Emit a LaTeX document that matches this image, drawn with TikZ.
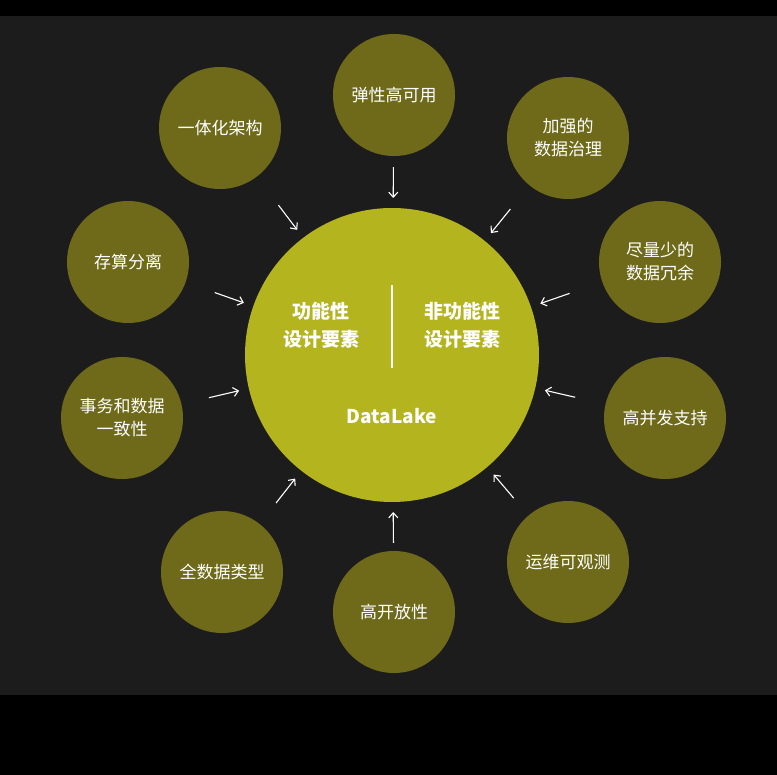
\documentclass[tikz,border=0pt]{standalone}
\usepackage{fontspec}
\setmainfont{Noto Sans CJK SC}
\usetikzlibrary{arrows.meta,calc}
\begin{document}
\begin{tikzpicture}[x=1pt,y=-1pt,
  outer/.style={circle,fill=olivedark,minimum size=122pt,inner sep=0pt,text=white,font=\fontsize{17}{23}\selectfont,align=center},
  arr/.style={draw=white,line width=1.1pt,-{Straight Barb[length=5pt,width=9pt]}}]
\definecolor{olivedark}{RGB}{110,106,26}
\definecolor{olivebright}{RGB}{180,180,30}
\definecolor{bg}{RGB}{28,28,28}
\fill[black] (0,0) rectangle (777,775);
\fill[bg] (0,16) rectangle (777,695);
\node[circle,fill=olivebright,minimum size=294pt,inner sep=0pt] (c) at (392,355) {};
\draw[white,line width=1.2pt] (392,285) -- (392,368);
\node[text=white,font=\bfseries\fontsize{19}{28}\selectfont,align=center] (t1) at (321,325) {功能性\\设计要素};
\node[text=white,font=\bfseries\fontsize{19}{28}\selectfont,align=center] (t2) at (462,325) {非功能性\\设计要素};
\node[text=white,font=\bfseries\fontsize{19}{24}\selectfont] (t3) at (392,416) {DataLake};
\node[outer] (o1) at (394,95) {弹性高可用};
\node[outer] (o2) at (568,138) {加强的\\数据治理};
\node[outer] (o3) at (660,262) {尽量少的\\数据冗余};
\node[outer] (o4) at (665,418) {高并发支持};
\node[outer] (o5) at (568,562) {运维可观测};
\node[outer] (o6) at (394,612) {高开放性};
\node[outer] (o7) at (222,572) {全数据类型};
\node[outer] (o8) at (122,418) {事务和数据\\一致性};
\node[outer] (o9) at (128,262) {存算分离};
\node[outer] (o10) at (220,128) {一体化架构};
\foreach \i in {1,...,10} \draw[arr] ($(c.center)!188pt!(o\i.center)$) -- ($(c.center)!157pt!(o\i.center)$);
\end{tikzpicture}
\end{document}
